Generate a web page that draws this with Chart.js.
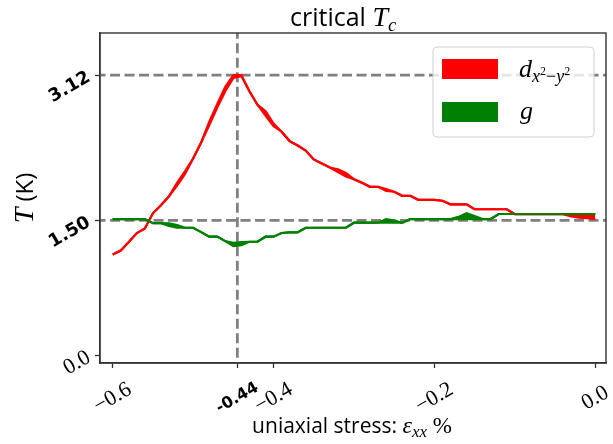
<!DOCTYPE html>
<html>
<head>
<meta charset="utf-8">
<script src="https://cdn.jsdelivr.net/npm/chart.js"></script>
<style>
  body { margin: 0; background: #fff; }
  #wrap { width: 613px; height: 444px; }
</style>
</head>
<body>
<div id="wrap"><canvas id="myChart"></canvas></div>
<script>
// strain values (%)
const strain = [-0.60, -0.59, -0.58, -0.57, -0.56, -0.55, -0.54, -0.53, -0.52, -0.51,
  -0.50, -0.49, -0.48, -0.47, -0.46, -0.45, -0.44, -0.43, -0.42, -0.41,
  -0.40, -0.39, -0.38, -0.37, -0.36, -0.35, -0.34, -0.33, -0.32, -0.31,
  -0.30, -0.29, -0.28, -0.27, -0.26, -0.25, -0.24, -0.23, -0.22, -0.21,
  -0.20, -0.19, -0.18, -0.17, -0.16, -0.15, -0.14, -0.13, -0.12, -0.11,
  -0.10, -0.09, -0.08, -0.07, -0.06, -0.05, -0.04, -0.03, -0.02, -0.01, 0.00];

// d_{x2-y2}: lower / upper edge of the band
const dLow = [1.12, 1.165, 1.26, 1.36, 1.41, 1.58, 1.67, 1.77, 1.89, 2.02,
  2.19, 2.37, 2.56, 2.76, 2.94, 3.09, 3.11, 2.94, 2.79, 2.67,
  2.55, 2.49, 2.385, 2.335, 2.28, 2.18, 2.135, 2.09, 2.04, 1.99,
  1.96, 1.92, 1.875, 1.875, 1.83, 1.82, 1.775, 1.775, 1.73, 1.73,
  1.73, 1.72, 1.68, 1.68, 1.68, 1.625, 1.625, 1.625, 1.625, 1.625,
  1.57, 1.57, 1.57, 1.57, 1.57, 1.57, 1.57, 1.545, 1.53, 1.525, 1.515];
const dHigh = [1.12, 1.165, 1.26, 1.36, 1.41, 1.58, 1.67, 1.77, 1.92, 2.05,
  2.19, 2.37, 2.60, 2.80, 2.99, 3.12, 3.12, 2.94, 2.79, 2.72,
  2.58, 2.49, 2.385, 2.335, 2.28, 2.18, 2.135, 2.09, 2.07, 2.03,
  1.96, 1.92, 1.875, 1.875, 1.85, 1.82, 1.775, 1.775, 1.73, 1.73,
  1.73, 1.72, 1.68, 1.68, 1.68, 1.625, 1.625, 1.625, 1.625, 1.625,
  1.57, 1.57, 1.57, 1.57, 1.57, 1.57, 1.57, 1.57, 1.57, 1.57, 1.57];

// g: lower / upper edge
const gLow = [1.516, 1.516, 1.516, 1.516, 1.516, 1.47, 1.47, 1.44, 1.42, 1.419,
  1.419, 1.37, 1.32, 1.32, 1.27, 1.215, 1.225, 1.263, 1.263, 1.319,
  1.319, 1.36, 1.368, 1.368, 1.419, 1.419, 1.419, 1.419, 1.419, 1.419,
  1.475, 1.475, 1.475, 1.475, 1.475, 1.475, 1.475, 1.516, 1.516, 1.516,
  1.516, 1.516, 1.516, 1.516, 1.516, 1.516, 1.516, 1.516, 1.572, 1.572,
  1.572, 1.572, 1.572, 1.572, 1.572, 1.572, 1.572, 1.572, 1.572, 1.572, 1.572];
const gHigh = [1.516, 1.516, 1.516, 1.516, 1.516, 1.47, 1.47, 1.468, 1.45, 1.419,
  1.419, 1.37, 1.32, 1.32, 1.27, 1.25, 1.26, 1.263, 1.263, 1.319,
  1.319, 1.36, 1.368, 1.368, 1.419, 1.419, 1.419, 1.419, 1.419, 1.419,
  1.475, 1.475, 1.475, 1.475, 1.516, 1.50, 1.475, 1.516, 1.516, 1.516,
  1.516, 1.516, 1.516, 1.54, 1.58, 1.55, 1.516, 1.516, 1.572, 1.572,
  1.572, 1.572, 1.572, 1.572, 1.572, 1.572, 1.572, 1.572, 1.572, 1.572, 1.572];

// ticks and guide lines
const xTickVals = [-0.6, -0.445, -0.4, -0.2, 0.0];
const xTickLabels = ['\u22120.6', '-0.44', '\u22120.4', '\u22120.2', '0.0'];
const xTickBold = [false, true, false, false, false];
const yTickVals = [0.0, 1.5, 3.12];
const yTickLabels = ['0.0', '1.50', '3.12'];
const yTickBold = [false, true, true];
const peakX = -0.445;
const guideY = [1.5, 3.12];

const pts = arr => strain.map((x, i) => ({ x: x, y: arr[i] }));
const serif = '"Liberation Serif", serif';
const sans = '"Open Sans", "DejaVu Sans", sans-serif';

function runs(ctx, x, y, parts, align) {
  let w = 0;
  parts.forEach(p => { ctx.font = p.font; w += ctx.measureText(p.t).width; });
  let cx = align === 'left' ? x : x - w / 2;
  ctx.textAlign = 'left';
  ctx.textBaseline = 'alphabetic';
  parts.forEach(p => {
    ctx.font = p.font;
    ctx.fillText(p.t, cx, y + (p.dy || 0));
    cx += ctx.measureText(p.t).width;
  });
}

const decorations = {
  id: 'decorations',
  afterDraw(chart) {
    const ctx = chart.ctx;
    const a = chart.chartArea;
    const xs = chart.scales.x, ys = chart.scales.y;
    ctx.save();
    ctx.strokeStyle = '#333';
    ctx.lineWidth = 1.4;
    ctx.strokeRect(a.left, a.top, a.right - a.left, a.bottom - a.top);
    ctx.fillStyle = '#000';

    xTickVals.forEach((v, i) => {
      ctx.save();
      ctx.translate(xs.getPixelForValue(v), 398);
      ctx.rotate(-Math.PI / 6);
      ctx.textAlign = 'center';
      ctx.textBaseline = 'middle';
      ctx.font = xTickBold[i] ? 'bold 16px "DejaVu Sans"' : '22px ' + serif;
      ctx.fillText(xTickLabels[i], 0, 0);
      ctx.restore();
    });
    yTickVals.forEach((v, i) => {
      ctx.save();
      ctx.translate(89, ys.getPixelForValue(v) + 1);
      ctx.rotate(-Math.PI / 6);
      ctx.textAlign = 'right';
      ctx.textBaseline = 'middle';
      ctx.font = yTickBold[i] ? 'bold 18px "DejaVu Sans"' : '22px ' + serif;
      ctx.fillText(yTickLabels[i], 0, 0);
      ctx.restore();
    });

    // title and axis titles
    runs(ctx, 290, 26, [
      { t: 'critical ', font: '25px ' + sans },
      { t: 'T', font: 'italic 28px ' + serif },
      { t: 'c', font: 'italic 19px ' + serif, dy: 5 }
    ], 'left');
    runs(ctx, 352, 433, [
      { t: 'uniaxial stress: ', font: '21px ' + sans },
      { t: '\u03b5', font: 'italic 24px ' + serif },
      { t: 'xx', font: 'italic 17px ' + serif, dy: 4 },
      { t: ' %', font: '23px ' + serif }
    ]);
    ctx.save();
    ctx.translate(33, 198);
    ctx.rotate(-Math.PI / 2);
    runs(ctx, 0, 0, [
      { t: 'T', font: 'italic 28px ' + serif },
      { t: ' (K)', font: '24px ' + sans }
    ]);
    ctx.restore();

    // legend
    ctx.beginPath();
    ctx.roundRect(433, 47, 161, 90, 4);
    ctx.fillStyle = 'rgba(255,255,255,0.8)';
    ctx.fill();
    ctx.strokeStyle = '#d0d0d0';
    ctx.lineWidth = 1;
    ctx.stroke();
    ctx.fillStyle = 'red';
    ctx.fillRect(442, 59, 56, 20);
    ctx.fillStyle = 'green';
    ctx.fillRect(442, 102, 56, 20);
    ctx.fillStyle = '#000';
    runs(ctx, 519, 77, [
      { t: 'd', font: 'italic 26px ' + serif },
      { t: 'x', font: 'italic 18px ' + serif, dy: 5 },
      { t: '2', font: '12px ' + serif, dy: -2 },
      { t: '\u2212', font: '18px ' + serif, dy: 5 },
      { t: 'y', font: 'italic 18px ' + serif, dy: 5 },
      { t: '2', font: '12px ' + serif, dy: -2 }
    ], 'left');
    runs(ctx, 520, 119, [{ t: 'g', font: 'italic 26px ' + serif }], 'left');
    ctx.restore();
  }
};

const guide = { borderColor: '#808080', borderWidth: 2.8, borderDash: [10, 4.5], pointRadius: 0, fill: false, order: 3 };
const band = (color, ord) => ({ borderColor: color, borderWidth: 2.2, pointRadius: 0, tension: 0, order: ord });

new Chart(
  document.getElementById('myChart'),
  {
    type: 'line',
    data: {
      datasets: [
        Object.assign({ data: [{ x: peakX, y: -1 }, { x: peakX, y: 5 }] }, guide),
        Object.assign({ data: [{ x: -1, y: guideY[0] }, { x: 1, y: guideY[0] }] }, guide),
        Object.assign({ data: [{ x: -1, y: guideY[1] }, { x: 1, y: guideY[1] }] }, guide),
        Object.assign({ data: pts(dLow), fill: false }, band('red', 2)),
        Object.assign({ data: pts(dHigh), fill: '-1', backgroundColor: 'red' }, band('red', 2)),
        Object.assign({ data: pts(gLow), fill: false }, band('green', 1)),
        Object.assign({ data: pts(gHigh), fill: '-1', backgroundColor: 'green' }, band('green', 1))
      ]
    },
    options: {
      responsive: true,
      maintainAspectRatio: false,
      animation: false,
      layout: { padding: { left: 94, right: 7, top: 33, bottom: 75 } },
      plugins: { legend: { display: false }, tooltip: { enabled: false } },
      scales: {
        x: {
          type: 'linear',
          min: -0.6158,
          max: 0.0134,
          afterBuildTicks: s => { s.ticks = xTickVals.map(v => ({ value: v })); },
          afterFit: s => { s.height = 6; },
          ticks: { display: false },
          grid: { drawOnChartArea: false, tickLength: 5, tickColor: '#333', tickWidth: 1.3 },
          border: { color: '#333', width: 1.4 }
        },
        y: {
          min: -0.089,
          max: 3.59,
          afterBuildTicks: s => { s.ticks = yTickVals.map(v => ({ value: v })); },
          afterFit: s => { s.width = 6; },
          ticks: { display: false },
          grid: { drawOnChartArea: false, tickLength: 5, tickColor: '#333', tickWidth: 1.3 },
          border: { color: '#333', width: 1.4 }
        }
      }
    },
    plugins: [decorations]
  }
);
</script>
</body>
</html>
